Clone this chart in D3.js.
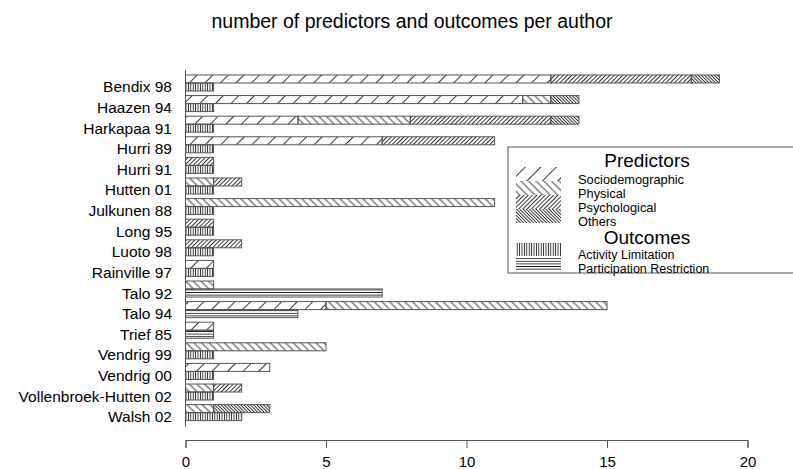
<!DOCTYPE html>
<html>
<head>
<meta charset="utf-8">
<script src="https://cdn.jsdelivr.net/npm/d3@7"></script>
<style>
  body { margin: 0; background: #fff; }
  text { font-family: "Liberation Sans", Arial, sans-serif; fill: #000; }
</style>
</head>
<body>
<div id="chart"></div>
<script>
// data
var authors = ["Bendix 98", "Haazen 94", "Harkapaa 91", "Hurri 89", "Hurri 91", "Hutten 01",
    "Julkunen 88", "Long 95", "Luoto 98", "Rainville 97", "Talo 92", "Talo 94", "Trief 85",
    "Vendrig 99", "Vendrig 00", "Vollenbroek-Hutten 02", "Walsh 02"];
var socio         = [13, 12, 4, 7, 0, 0, 0, 0, 0, 1, 0, 5, 1, 0, 3, 0, 0];
var physical      = [0, 1, 4, 0, 0, 1, 11, 0, 0, 0, 1, 10, 0, 5, 0, 1, 1];
var psychological = [5, 0, 5, 4, 1, 1, 0, 1, 2, 0, 0, 0, 0, 0, 0, 1, 0];
var others        = [1, 1, 1, 0, 0, 0, 0, 0, 0, 0, 0, 0, 0, 0, 0, 0, 2];
var activity      = [1, 1, 1, 1, 1, 1, 1, 1, 1, 1, 0, 0, 0, 1, 1, 1, 2];
var participation = [0, 0, 0, 0, 0, 0, 0, 0, 0, 0, 7, 4, 1, 0, 0, 0, 0];
var xTicks = [0, 5, 10, 15, 20];

var predKeys = ["socio", "physical", "psych", "others"];
var predLabels = ["Sociodemographic", "Physical", "Psychological", "Others"];
var outKeys = ["activity", "participation"];
var outLabels = ["Activity Limitation", "Participation Restriction"];

var W = 793, H = 469;

var svg = d3.select("#chart")
    .append("svg")
    .attr("width", W)
    .attr("height", H);

// hatch patterns (angle, spacing)
var hatch = {
    socio: { angle: -45, gap: 11 },
    physical: { angle: 45, gap: 5.4 },
    psych: { angle: -45, gap: 3 },
    others: { angle: 45, gap: 2.3 },
    activity: { angle: 90, gap: 2.4 },
    participation: { angle: 0, gap: 2.6 }
};
var defs = svg.append("defs");
Object.keys(hatch).forEach(function (k) {
    var h = hatch[k];
    var p = defs.append("pattern")
        .attr("id", "h-" + k)
        .attr("patternUnits", "userSpaceOnUse")
        .attr("width", 20)
        .attr("height", h.gap)
        .attr("patternTransform", "rotate(" + h.angle + ")");
    p.append("line")
        .attr("x1", 0).attr("x2", 20)
        .attr("y1", h.gap / 2).attr("y2", h.gap / 2)
        .attr("stroke", "#222")
        .attr("stroke-width", 0.9);
});

var x = d3.scaleLinear()
    .domain([0, 20])
    .range([185.5, 747.5]);

var y = d3.scaleBand()
    .domain(authors)
    .range([72.7, 422.9])
    .paddingInner(0.223)
    .paddingOuter(0.11);

var barH = y.bandwidth() / 2;

// stacked predictors
var predRows = authors.map(function (a, i) {
    return { author: a, socio: socio[i], physical: physical[i], psych: psychological[i], others: others[i] };
});
var outRows = authors.map(function (a, i) {
    return { author: a, activity: activity[i], participation: participation[i] };
});

function drawStack(rows, keys, offset) {
    var series = d3.stack().keys(keys)(rows);
    series.forEach(function (s) {
        svg.append("g")
            .selectAll("rect")
            .data(s.filter(function (d) { return d[1] > d[0]; }))
            .enter().append("rect")
            .attr("x", function (d) { return x(d[0]); })
            .attr("y", function (d) { return y(d.data.author) + offset; })
            .attr("width", function (d) { return x(d[1]) - x(d[0]); })
            .attr("height", barH)
            .attr("fill", "url(#h-" + s.key + ")")
            .attr("stroke", "#555")
            .attr("stroke-width", 1);
    });
}
drawStack(predRows, predKeys, 0);
drawStack(outRows, outKeys, barH);

// left line
svg.append("line")
    .attr("x1", x(0)).attr("x2", x(0))
    .attr("y1", y.range()[0] - 3).attr("y2", y.range()[1] + 4)
    .attr("stroke", "#555");

// author labels
svg.append("g")
    .selectAll("text")
    .data(authors)
    .enter().append("text")
    .attr("x", 172)
    .attr("y", function (d) { return y(d) + barH + 4; })
    .attr("text-anchor", "end")
    .attr("dominant-baseline", "central")
    .style("font-size", "15.5px")
    .text(function (d) { return d; });

// x axis
var xAxis = svg.append("g")
    .attr("transform", "translate(0,440)")
    .call(d3.axisBottom(x).tickValues(xTicks).tickSize(8).tickPadding(8));
xAxis.selectAll("path, line").attr("stroke", "#555");
xAxis.selectAll("text")
    .style("font-size", "15px")
    .style("font-family", "Liberation Sans, Arial, sans-serif");

// title
svg.append("text")
    .attr("x", 412)
    .attr("y", 28)
    .attr("text-anchor", "middle")
    .style("font-size", "19.5px")
    .text("number of predictors and outcomes per author");

// legend
var lg = svg.append("g");
lg.append("rect")
    .attr("x", 508).attr("y", 147)
    .attr("width", 300).attr("height", 126)
    .attr("fill", "#fff")
    .attr("stroke", "#555");

lg.append("text").attr("x", 647).attr("y", 160)
    .attr("text-anchor", "middle").attr("dominant-baseline", "central")
    .style("font-size", "19px").text("Predictors");
lg.append("text").attr("x", 647).attr("y", 237)
    .attr("text-anchor", "middle").attr("dominant-baseline", "central")
    .style("font-size", "19px").text("Outcomes");

var predY = d3.scalePoint().domain(predKeys).range([179, 221]);
var outY = d3.scalePoint().domain(outKeys).range([255, 269]);

lg.selectAll(".sw-p")
    .data(predKeys)
    .enter().append("rect")
    .attr("x", 516).attr("width", 45)
    .attr("y", function (d) { return predY(d) - 12; })
    .attr("height", 14)
    .attr("fill", function (d) { return "url(#h-" + d + ")"; });
lg.selectAll(".t-p")
    .data(predKeys)
    .enter().append("text")
    .attr("x", 578)
    .attr("y", function (d) { return predY(d); })
    .attr("dominant-baseline", "central")
    .style("font-size", "12.8px")
    .text(function (d, i) { return predLabels[i]; });

lg.selectAll(".sw-o")
    .data(outKeys)
    .enter().append("rect")
    .attr("x", 516).attr("width", 45)
    .attr("y", function (d) { return outY(d) - 12; })
    .attr("height", 13)
    .attr("fill", function (d) { return "url(#h-" + d + ")"; });
lg.selectAll(".t-o")
    .data(outKeys)
    .enter().append("text")
    .attr("x", 578)
    .attr("y", function (d) { return outY(d); })
    .attr("dominant-baseline", "central")
    .style("font-size", "12.5px")
    .text(function (d, i) { return outLabels[i]; });
</script>
</body>
</html>
